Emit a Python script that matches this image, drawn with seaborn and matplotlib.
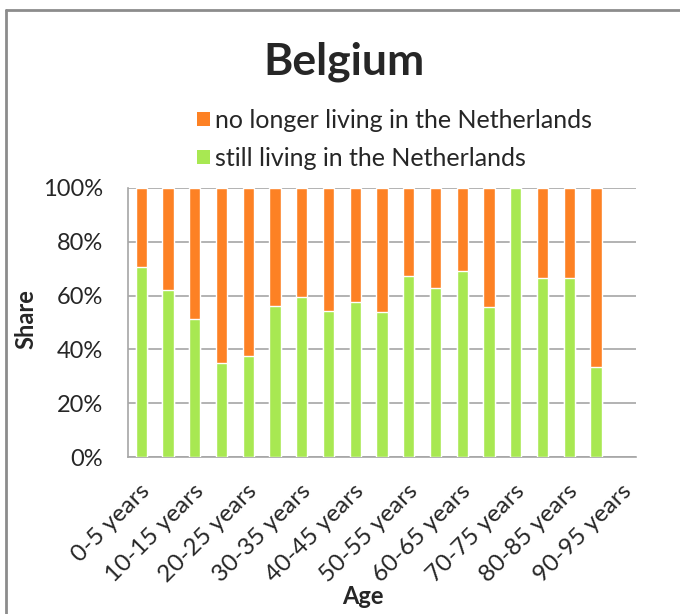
import matplotlib
matplotlib.use("Agg")
import matplotlib.pyplot as plt
import matplotlib.transforms as mtransforms
from matplotlib.patches import Patch
from matplotlib.lines import Line2D
import seaborn as sns
import pandas as pd
import numpy as np

ages = ["0-5 years", "5-10 years", "10-15 years", "15-20 years", "20-25 years",
        "25-30 years", "30-35 years", "35-40 years", "40-45 years", "45-50 years",
        "50-55 years", "55-60 years", "60-65 years", "65-70 years", "70-75 years",
        "75-80 years", "80-85 years", "85-90 years", "90-95 years"]
still_living = [70.6, 61.9, 51.4, 35.1, 37.6, 56.2, 59.5, 54.3, 57.7, 53.8,
                67.2, 62.9, 69.1, 55.8, 100.0, 66.7, 66.7, 33.3, np.nan]
no_longer = [29.4, 38.1, 48.6, 64.9, 62.4, 43.8, 40.5, 45.7, 42.3, 46.2,
             32.8, 37.1, 30.9, 44.2, 0.0, 33.3, 33.3, 66.7, np.nan]

orange = "#FD8124"
green = "#A8E852"
grid_grey = "#A6A6A6"

df = pd.DataFrame({"age": ages, "still": still_living, "gone": no_longer})
df["total"] = df["still"] + df["gone"]

sns.set_style("white")
plt.rcParams["font.family"] = ["Lato", "DejaVu Sans"]

fig = plt.figure(figsize=(6.8, 6.14), dpi=100)
ax = fig.add_axes([128 / 680, 1 - 457 / 614, 508 / 680, 269 / 614])

# stacked bars: full height in orange, the "still living" part over it in green
sns.barplot(data=df, x="age", y="total", color=orange, width=0.42,
            saturation=1, ax=ax, zorder=2)
sns.barplot(data=df, x="age", y="still", color=green, width=0.42,
            saturation=1, ax=ax, zorder=3)

ax.set_ylim(0, 100)
ax.set_xlim(-0.5, len(ages) - 0.5)
ax.set_yticks(np.arange(0, 101, 20))
ax.set_yticklabels([f"{v}%" for v in range(0, 101, 20)], fontsize=17)
ax.yaxis.grid(True, color=grid_grey, linewidth=1.2, zorder=0)
ax.set_axisbelow(True)

shown = list(range(0, len(ages), 2))
ax.set_xticks(shown)
ax.set_xticklabels([ages[i] for i in shown], rotation=45, ha="right",
                   va="top", rotation_mode="anchor", fontsize=17.5)
ax.tick_params(axis="y", length=0, pad=18)
ax.tick_params(axis="x", length=0, pad=17)
shift = mtransforms.ScaledTranslation(-2 / 100, 0, fig.dpi_scale_trans)
for lab in ax.get_xticklabels():
    lab.set_transform(lab.get_transform() + shift)

for side in ("top", "right"):
    ax.spines[side].set_visible(False)
for side in ("left", "bottom"):
    ax.spines[side].set_color(grid_grey)
    ax.spines[side].set_linewidth(1.2)

ax.set_xlabel("")
ax.set_ylabel("")
fig.text(26 / 680, 1 - 319 / 614, "Share", rotation=90, ha="center",
         va="center", fontsize=17, fontweight="bold")
fig.text(363 / 680, 1 - 597 / 614, "Age", ha="center", va="center",
         fontsize=17, fontweight="bold")
fig.text(344 / 680, 1 - 62 / 614, "Belgium", ha="center", va="center",
         fontsize=32, fontweight="bold")

handles = [Patch(facecolor=orange, edgecolor="none"),
           Patch(facecolor=green, edgecolor="none")]
fig.legend(handles, ["no longer living in the Netherlands",
                     "still living in the Netherlands"],
           loc="upper left", bbox_to_anchor=(185 / 680, 1 - 96 / 614),
           frameon=False, fontsize=18, handlelength=0.5, handleheight=0.5,
           handletextpad=0.2, labelspacing=0.62, borderpad=0)

# chart frame (left and top edges)
fig.add_artist(Line2D([6 / 680, 6 / 680], [0, 1 - 9.5 / 614],
                      transform=fig.transFigure, color="#8C8C8C", lw=2))
fig.add_artist(Line2D([6 / 680, 1], [1 - 9.5 / 614, 1 - 9.5 / 614],
                      transform=fig.transFigure, color="#8C8C8C", lw=2))

fig.savefig("out.png", dpi=100)
